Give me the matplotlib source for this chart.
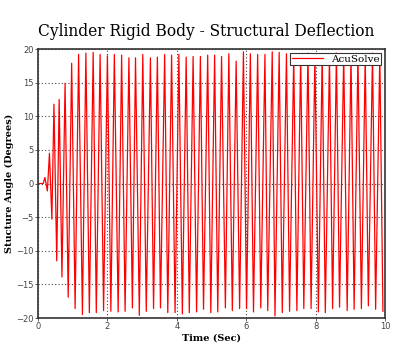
import matplotlib
matplotlib.use("Agg")
import matplotlib.pyplot as plt

# turning points of the cylinder deflection (time in s, angle in degrees)
tiempo = [0.00, 0.15, 0.20, 0.27, 0.33, 0.40, 0.46, 0.54, 0.61, 0.69,
          0.78, 0.87, 0.97, 1.07, 1.17, 1.28, 1.38, 1.48, 1.59, 1.68,
          1.79, 1.89, 2.00, 2.10, 2.20, 2.31, 2.41, 2.51, 2.62, 2.72,
          2.81, 2.92, 3.02, 3.12, 3.24, 3.33, 3.44, 3.53, 3.65, 3.74,
          3.85, 3.95, 4.06, 4.16, 4.27, 4.36, 4.47, 4.57, 4.68, 4.77,
          4.89, 4.98, 5.09, 5.18, 5.29, 5.40, 5.50, 5.60, 5.71, 5.81,
          5.92, 6.01, 6.12, 6.21, 6.33, 6.42, 6.54, 6.62, 6.75, 6.83,
          6.95, 7.04, 7.16, 7.25, 7.37, 7.46, 7.57, 7.66, 7.78, 7.87,
          7.98, 8.08, 8.19, 8.28, 8.40, 8.49, 8.60, 8.69, 8.81, 8.91,
          9.02, 9.11, 9.22, 9.32, 9.43, 9.52, 9.64, 9.73, 9.85, 9.94]
angolo = [0.0, 0.0, 0.9, -1.1, 4.5, -5.3, 11.8, -11.5, 12.5, -13.9,
          14.9, -16.9, 17.9, -18.6, 19.2, -19.5, 19.4, -19.2, 19.5, -19.2,
          19.2, -18.9, 19.0, -19.0, 19.2, -19.1, 19.1, -19.0, 18.7, -18.5,
          18.7, -19.6, 19.2, -19.0, 18.7, -18.6, 18.8, -18.5, 19.2, -19.2,
          19.1, -19.2, 19.2, -19.4, 18.8, -19.2, 18.9, -19.1, 18.9, -18.7,
          19.1, -19.2, 19.1, -19.1, 18.9, -18.5, 19.3, -18.9, 18.2, -18.6,
          19.6, -18.6, 19.3, -19.1, 19.2, -18.5, 19.2, -18.9, 19.6, -19.7,
          19.5, -19.2, 19.3, -19.0, 19.0, -18.9, 19.2, -18.6, 19.4, -18.6,
          19.1, -19.1, 19.3, -19.2, 19.0, -18.6, 19.4, -18.4, 19.2, -18.9,
          19.1, -18.7, 19.3, -18.6, 19.0, -18.2, 19.4, -18.7, 19.2, -19.0]

tick_x = [0, 2, 4, 6, 8, 10]
tick_y = [-20, -15, -10, -5, 0, 5, 10, 15, 20]

fig = plt.figure(figsize=(4.0, 3.48), dpi=100)
ax = fig.add_axes([0.095, 0.0862, 0.8675, 0.7728])

ax.plot(tiempo, angolo, color="#ff0000", linewidth=0.9, label="AcuSolve")

ax.set_xlim(0, 10)
ax.set_ylim(-20, 20)
ax.set_xticks(tick_x)
ax.set_yticks(tick_y)
ax.grid(True, color="#444444", linestyle=(0, (1, 2)), linewidth=0.8)

for lato in ax.spines.values():
    lato.set_color("#333333")
    lato.set_linewidth(1.2)
ax.tick_params(labelsize=6, colors="#444444", length=2, width=0.6, pad=1)

fig.text(0.516, 0.91, "Cylinder Rigid Body - Structural Deflection",
         family="DejaVu Serif", fontsize=11.2, ha="center", va="center")
ax.set_xlabel("Time (Sec)", family="DejaVu Serif", fontsize=7, fontweight="bold", labelpad=2)
ax.set_ylabel("Stucture Angle (Degrees)", family="DejaVu Serif", fontsize=7,
              fontweight="bold", labelpad=2)

leg = ax.legend(loc="upper right", prop={"family": "DejaVu Serif", "size": 7.5},
                fancybox=False, edgecolor="#333333", borderpad=0.15,
                handlelength=3, borderaxespad=0.35, framealpha=1)
leg.get_frame().set_linewidth(0.8)

plt.savefig("out.png", dpi=100)
plt.close()
